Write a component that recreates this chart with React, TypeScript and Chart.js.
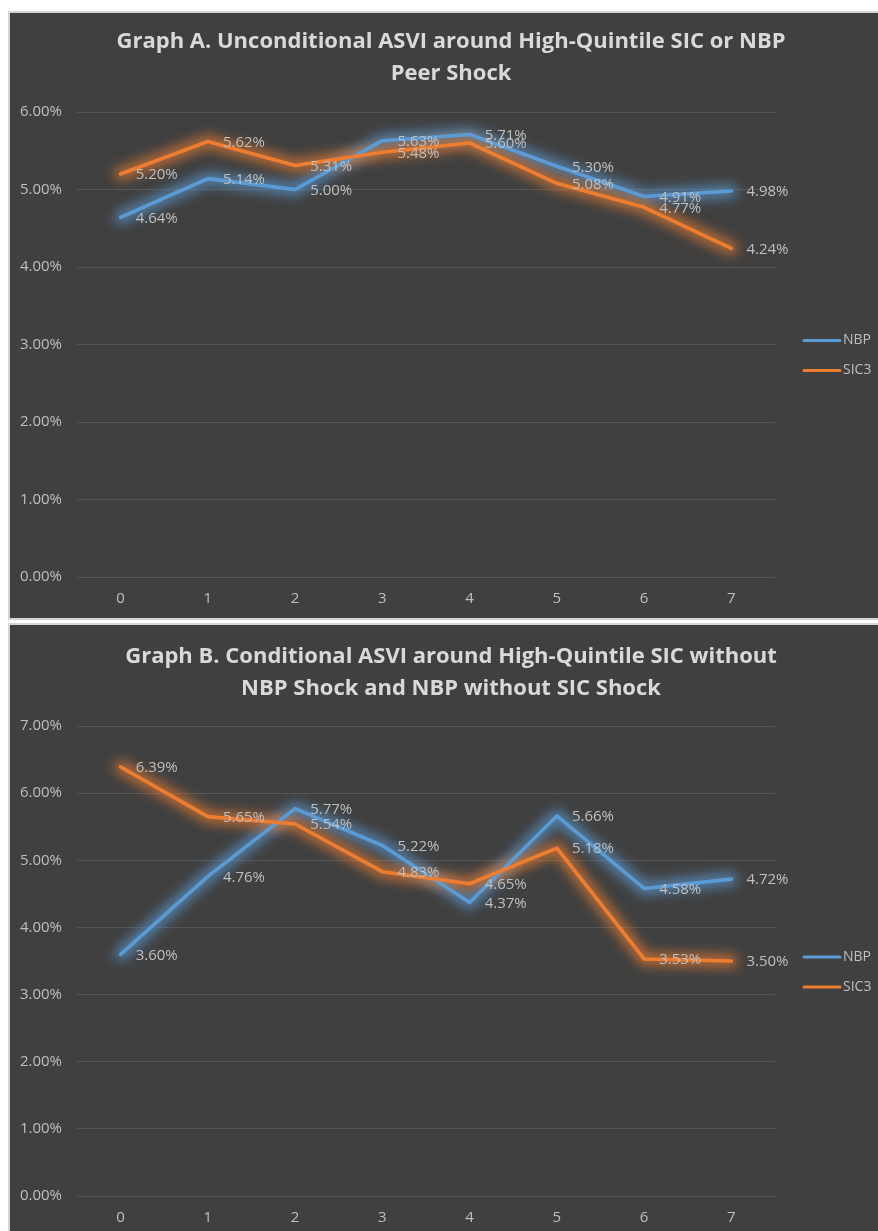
import React, { useEffect, useRef } from "react";
import { Chart, registerables } from "chart.js";

Chart.register(...registerables);

// Event-time offsets shared by both graphs
const PERIODS = ["0", "1", "2", "3", "4", "5", "6", "7"];

// Graph A: unconditional ASVI (%)
const A_NBP = [4.64, 5.14, 5.0, 5.63, 5.71, 5.3, 4.91, 4.98];
const A_SIC3 = [5.2, 5.62, 5.31, 5.48, 5.6, 5.08, 4.77, 4.24];

// Graph B: conditional ASVI (%)
const B_NBP = [3.6, 4.76, 5.77, 5.22, 4.37, 5.66, 4.58, 4.72];
const B_SIC3 = [6.39, 5.65, 5.54, 4.83, 4.65, 5.18, 3.53, 3.5];

const A_TITLE = ["Graph A. Unconditional ASVI around High-Quintile SIC or NBP", "Peer Shock"];
const B_TITLE = [
  "Graph B. Conditional ASVI around High-Quintile SIC without",
  "NBP Shock and NBP without SIC Shock",
];

const A_Y_MAX = 6;
const B_Y_MAX = 7;

const SERIES_NAMES = ["NBP", "SIC3"];
const SERIES_COLORS = ["#5B9BD5", "#ED7D31"];
const GLOW_COLORS = ["rgba(91,155,213,0.7)", "rgba(237,125,49,0.7)"];

const BG = "#404040";
const TEXT = "#bfbfbf";
const TITLE_COLOR = "#d9d9d9";
const GRID = "#565656";
const FONT = "'Open Sans', 'DejaVu Sans', sans-serif";

const fmtPct = (v: number) => v.toFixed(2) + "%";

// Background, soft glow under the lines, value labels, title and legend
const officeDecor = {
  id: "officeDecor",
  beforeDraw(chart: any) {
    const { ctx, width, height } = chart;
    ctx.save();
    ctx.fillStyle = BG;
    ctx.fillRect(0, 0, width, height);
    ctx.restore();
  },
  beforeDatasetsDraw(chart: any) {
    const ctx = chart.ctx;
    chart.data.datasets.forEach((_ds: any, i: number) => {
      const pts = chart.getDatasetMeta(i).data;
      if (!pts.length) return;
      ctx.save();
      ctx.filter = "blur(6px)";
      ctx.strokeStyle = GLOW_COLORS[i];
      ctx.lineWidth = 13;
      ctx.lineJoin = "round";
      ctx.lineCap = "round";
      ctx.beginPath();
      pts.forEach((p: any, j: number) => (j === 0 ? ctx.moveTo(p.x, p.y) : ctx.lineTo(p.x, p.y)));
      ctx.stroke();
      ctx.restore();
    });
  },
  afterDatasetsDraw(chart: any) {
    const ctx = chart.ctx;
    ctx.save();
    ctx.font = `15px ${FONT}`;
    ctx.fillStyle = TEXT;
    ctx.textAlign = "left";
    ctx.textBaseline = "middle";
    chart.data.datasets.forEach((ds: any, i: number) => {
      const meta = chart.getDatasetMeta(i);
      meta.data.forEach((pt: any, j: number) => {
        ctx.fillText(fmtPct(ds.data[j]), pt.x + 15, pt.y + 1);
      });
    });
    ctx.restore();
  },
  afterDraw(chart: any, _args: any, opts: any) {
    const { ctx, chartArea, width } = chart;
    ctx.save();
    // title
    ctx.font = `bold 22px ${FONT}`;
    ctx.fillStyle = TITLE_COLOR;
    ctx.textAlign = "center";
    ctx.textBaseline = "middle";
    (opts.title || []).forEach((line: string, k: number) => {
      ctx.fillText(line, width / 2 + 7, opts.titleTop + k * 32);
    });
    // legend
    const midY = (chartArea.top + chartArea.bottom) / 2 + 11;
    ctx.font = `14px ${FONT}`;
    ctx.textAlign = "left";
    chart.data.datasets.forEach((ds: any, i: number) => {
      const y = midY + (i - 0.5) * 30;
      ctx.strokeStyle = ds.borderColor;
      ctx.lineWidth = 3;
      ctx.lineCap = "round";
      ctx.beginPath();
      ctx.moveTo(chartArea.right + 29, y);
      ctx.lineTo(chartArea.right + 65, y);
      ctx.stroke();
      ctx.fillStyle = TEXT;
      ctx.fillText(ds.label, chartArea.right + 68, y);
    });
    ctx.restore();
  },
};

type PanelProps = {
  title: string[];
  nbp: number[];
  sic3: number[];
  yMax: number;
  height: number;
  titleTop: number;
  plotTop: number;
  axisHeight: number;
};

function Panel({ title, nbp, sic3, yMax, height, titleTop, plotTop, axisHeight }: PanelProps) {
  const ref = useRef<HTMLCanvasElement | null>(null);

  useEffect(() => {
    if (!ref.current) return;
    const series = [nbp, sic3];
    const chart = new Chart(ref.current, {
      type: "line",
      data: {
        labels: PERIODS,
        datasets: series.map((values, i) => ({
          label: SERIES_NAMES[i],
          data: values,
          borderColor: SERIES_COLORS[i],
          backgroundColor: SERIES_COLORS[i],
          borderWidth: 3.6,
          borderJoinStyle: "round" as const,
          borderCapStyle: "round" as const,
          pointRadius: 0,
          pointHoverRadius: 0,
          tension: 0,
          order: i === 0 ? 1 : 0,
        })),
      },
      options: {
        responsive: false,
        maintainAspectRatio: false,
        animation: false,
        events: [],
        layout: { padding: { top: plotTop, right: 103, bottom: 0, left: 0 } },
        scales: {
          x: {
            type: "category",
            offset: true,
            grid: { display: false, drawTicks: false },
            border: { display: false },
            ticks: { color: TEXT, font: { family: FONT, size: 15 }, padding: 13, maxRotation: 0 },
            afterFit: (s: any) => {
              s.height = axisHeight;
            },
          },
          y: {
            min: 0,
            max: yMax,
            grid: { color: GRID, lineWidth: 1, drawTicks: false },
            border: { display: false },
            ticks: {
              stepSize: 1,
              color: TEXT,
              font: { family: FONT, size: 15 },
              padding: 15,
              callback: (v: any) => fmtPct(Number(v)),
            },
            afterFit: (s: any) => {
              s.width = 67;
            },
          },
        },
        plugins: {
          legend: { display: false },
          title: { display: false },
          tooltip: { enabled: false },
          officeDecor: { title, titleTop },
        } as any,
      },
      plugins: [officeDecor],
    });
    return () => chart.destroy();
  }, [title, nbp, sic3, yMax, height, titleTop, plotTop, axisHeight]);

  return <canvas ref={ref} width={868} height={height} style={{ display: "block" }} />;
}

export default function App() {
  useEffect(() => {
    // the panels run to the window's right and bottom edges; keep scrollbars away
    document.documentElement.style.overflow = "hidden";
    document.body.style.marginRight = "0";
  }, []);

  return (
    <div style={{ paddingTop: 3, width: 870 }}>
      <div
        style={{
          width: 868,
          height: 605,
          border: "2px solid #d4d4d4",
          borderRight: "none",
          background: BG,
        }}
      >
        <Panel
          title={A_TITLE}
          nbp={A_NBP}
          sic3={A_SIC3}
          yMax={A_Y_MAX}
          height={605}
          titleTop={29}
          plotTop={99}
          axisHeight={41}
        />
      </div>
      <div
        style={{
          width: 868,
          height: 606,
          marginTop: 3,
          border: "2px solid #d4d4d4",
          borderRight: "none",
          borderBottom: "none",
          background: BG,
        }}
      >
        <Panel
          title={B_TITLE}
          nbp={B_NBP}
          sic3={B_SIC3}
          yMax={B_Y_MAX}
          height={606}
          titleTop={32}
          plotTop={101}
          axisHeight={35}
        />
      </div>
    </div>
  );
}
